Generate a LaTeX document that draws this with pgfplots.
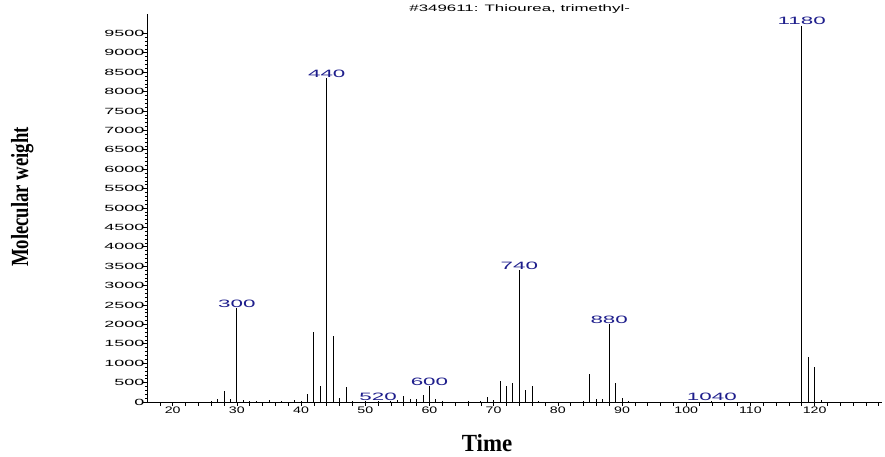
\documentclass[border=0pt]{standalone}
\usepackage{fontspec}
\usepackage{pgfplots}
\pgfplotsset{compat=1.18}
\setmainfont{Liberation Sans}
% the original renderer stretches its sans glyphs sideways
\newfontfamily\ysans[FakeStretch=2.0]{Liberation Sans}
\newfontfamily\xsans[FakeStretch=1.5]{Liberation Sans}
\newfontfamily\pksans[FakeStretch=2.1]{Liberation Sans}
\newfontfamily\ttlsans[FakeStretch=1.8]{Liberation Sans}
\newfontfamily\xlabserif[FakeStretch=0.93]{Liberation Serif}
\newfontfamily\ylabserif[FakeStretch=0.76]{Liberation Serif}
\definecolor{peaklab}{RGB}{30,30,140}

\pgfplotstableread{
x y
26 30
27 90
28 290
29 90
30 2420
31 40
32 15
33 30
35 40
37 25
39 50
40 30
41 210
42 1800
43 420
44 8350
45 1700
46 110
47 390
48 30
50 15
52 20
54 20
55 60
56 160
57 90
58 90
59 170
60 410
61 90
62 30
66 15
68 30
69 130
70 60
71 550
72 410
73 480
74 3400
75 320
76 420
77 30
84 15
85 720
86 90
87 90
88 2000
89 490
90 110
91 30
104 15
118 9700
119 1150
120 890
121 40
}\peaks

\pgfplotstableread{
x y lab
30 2420 300
44 8350 440
52 20 520
60 410 600
74 3400 740
88 2000 880
104 15 1040
118 9700 1180
}\peaklabels

\begin{document}
\begin{tikzpicture}
\path[use as bounding box] (0,0) rectangle (885bp,457bp);
\begin{axis}[
  at={(147bp,55bp)}, anchor=south west,
  scale only axis, width=735bp, height=388bp,
  xmin=16, xmax=130.5, ymin=0, ymax=10000,
  clip=false,
  axis x line=bottom, axis y line=left,
  axis line style={-, line width=0.8bp},
  tick align=outside,
  xtick={20,30,...,120},
  extra x ticks={18,20,...,130}, extra x tick labels={},
  ytick={0,500,...,9500},
  minor y tick num=4,
  major tick length=4bp, minor tick length=2bp,
  tick style={black, line width=0.6bp},
  scaled y ticks=false,
  /pgf/number format/assume math mode=true,
  /pgf/number format/1000 sep={},
  xticklabel style={font=\xsans\fontsize{9.5}{9.5}\selectfont, inner sep=1bp},
  yticklabel style={font=\ysans\fontsize{9}{9}\selectfont, inner sep=0bp, xshift=1.5bp},
  title={\#349611: Thiourea, trimethyl-},
  title style={font=\ttlsans\fontsize{9.4}{9.4}\selectfont,
    at={(axis description cs:0.507,1)}, anchor=base, yshift=-3bp},
  xlabel={Time},
  xlabel style={font=\xlabserif\bfseries\fontsize{24.7}{24.7}\selectfont,
    at={(axis description cs:0.4626,-0.1263)}, anchor=base},
  ylabel={Molecular weight},
  ylabel style={font=\ylabserif\bfseries\fontsize{24.7}{24.7}\selectfont,
    at={(axis description cs:-0.1619,0.528)}, anchor=base},
]
\addplot[ycomb, black, line width=0.9bp, mark=none] table[x=x, y=y] {\peaks};
\addplot[only marks, mark=*, mark size=0pt, mark options={draw=none, fill=none},
  nodes near coords, point meta=explicit symbolic,
  nodes near coords style={font=\pksans\fontsize{10.7}{10.7}\selectfont,
    text=peaklab, anchor=south, inner sep=0.5bp}]
  table[x=x, y=y, meta=lab] {\peaklabels};
\end{axis}
\end{tikzpicture}
\end{document}
